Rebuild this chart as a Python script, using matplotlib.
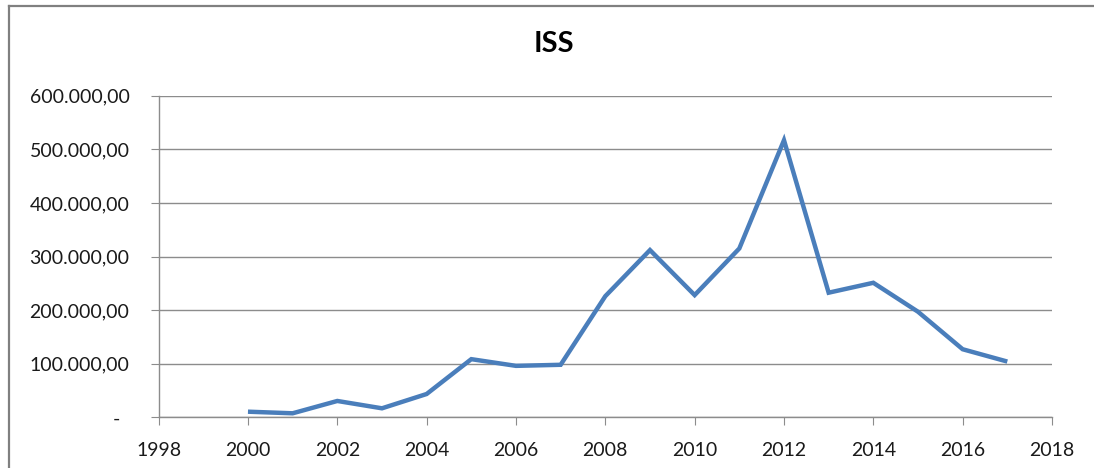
import matplotlib
matplotlib.use("Agg")
import matplotlib.pyplot as plt
from matplotlib.ticker import FuncFormatter, MultipleLocator
from matplotlib.transforms import ScaledTranslation
from matplotlib.lines import Line2D

years = [2000, 2001, 2002, 2003, 2004, 2005, 2006, 2007, 2008, 2009,
         2010, 2011, 2012, 2013, 2014, 2015, 2016, 2017]
iss = [10500, 7500, 30500, 16800, 43500, 108500, 96000, 98000, 226000, 312000,
       228000, 315000, 517000, 232500, 251000, 197000, 127000, 104000]
title = "ISS"

plt.rcParams['font.family'] = ['Lato', 'DejaVu Sans']

fig = plt.figure(figsize=(10.94, 4.68), dpi=100)
ax = fig.add_axes([0.145, 0.1083, 0.8166, 0.6872])

# outer chart border (left and top edges only are visible)
bx = 8.5 / 1094
by = 1 - 5.5 / 468
fig.add_artist(Line2D([bx, bx], [0, by], transform=fig.transFigure,
                      color='#808080', linewidth=1.6))
fig.add_artist(Line2D([bx, 1.02], [by, by], transform=fig.transFigure,
                      color='#808080', linewidth=1.6))

ax.plot(years, iss, color='#4A7EBB', linewidth=3.2, solid_joinstyle='miter',
        solid_capstyle='butt', zorder=3)

ax.set_xlim(1998, 2018)
ax.set_ylim(0, 600000)
ax.xaxis.set_major_locator(MultipleLocator(2))
ax.yaxis.set_major_locator(MultipleLocator(100000))


def fmt_y(v, pos):
    if v == 0:
        return "-"
    s = f"{v:,.2f}"
    return s.replace(",", "X").replace(".", ",").replace("X", ".")


ax.yaxis.set_major_formatter(FuncFormatter(fmt_y))
ax.xaxis.set_major_formatter(FuncFormatter(lambda v, p: f"{int(v)}"))

ax.grid(axis='y', color='#8c8c8c', linewidth=1.0)
ax.set_axisbelow(True)
for s in ['top', 'right']:
    ax.spines[s].set_visible(False)
for s in ['left', 'bottom']:
    ax.spines[s].set_color('#8c8c8c')
    ax.spines[s].set_linewidth(1.0)

ax.tick_params(axis='y', length=6, color='#8c8c8c', pad=15, labelsize=14,
               labelcolor='#1a1a1a')
ax.tick_params(axis='x', length=6, color='#8c8c8c', pad=12, labelsize=14,
               labelcolor='#1a1a1a')

fig.text(553.7 / 1094, 1 - 44.3 / 468, title, ha='center', va='center',
         fontsize=21, fontweight='bold', color='#000000')

fig.canvas.draw()
for lab in ax.get_yticklabels():
    if lab.get_text() == "-":
        lab.set_transform(lab.get_transform() +
                          ScaledTranslation(-9 / 100, 0, fig.dpi_scale_trans))

fig.savefig("out.png", dpi=100, facecolor='white')
